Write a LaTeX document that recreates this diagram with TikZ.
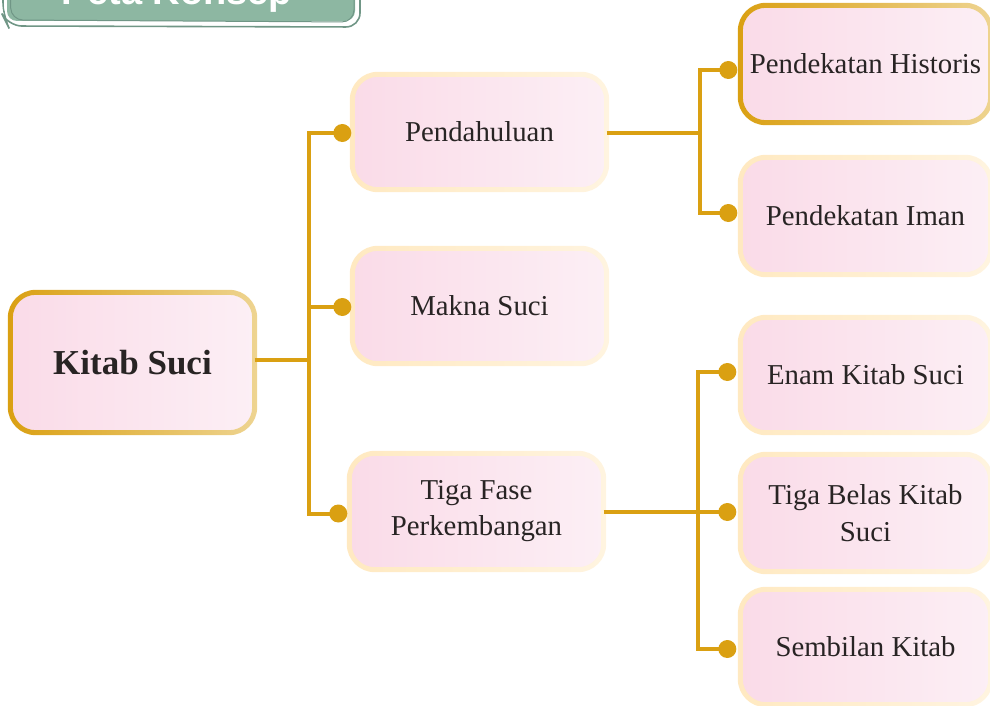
\documentclass[tikz,border=0pt]{standalone}
\usepackage{fontspec}
\setmainfont{Liberation Serif}
\newfontfamily\headfont{Liberation Sans}
\usetikzlibrary{calc}

\definecolor{gold}{RGB}{218,160,18}
\definecolor{palegold}{RGB}{238,212,145}
\definecolor{creamL}{RGB}{255,233,193}
\definecolor{creamR}{RGB}{255,244,224}
\definecolor{pinkL}{RGB}{250,219,232}
\definecolor{pinkR}{RGB}{252,239,245}
\definecolor{ink}{RGB}{40,36,36}
\definecolor{sage}{RGB}{141,183,162}
\definecolor{sageline}{RGB}{112,150,134}

% shaded frame around a box node: #1 node, #2 left colour, #3 right colour
\newcommand\boxring[3]{%
  \path[left color=#2, right color=#3, even odd rule]
    [rounded corners=28pt] ($(#1.north west)+(-2.5,-2.5)$) rectangle ($(#1.south east)+(2.5,2.5)$)
    [rounded corners=23pt] ($(#1.north west)+(2.5,2.5)$) rectangle ($(#1.south east)+(-2.5,-2.5)$);}

\begin{document}
\begin{tikzpicture}[x=1pt,y=-1pt,
  topic/.style={rectangle, rounded corners=25.5pt, left color=pinkL, right color=pinkR,
    draw=none, text=ink, align=center, inner sep=0pt,
    font=\fontsize{28.8}{36}\selectfont},
  wide/.style={topic, minimum width=254pt, minimum height=115pt},
  leaf/.style={topic, minimum width=250pt, minimum height=117pt},
  conn/.style={draw=gold, line width=4pt},
  dot/.style={circle, fill=gold, inner sep=0pt, minimum size=18pt}]

\useasboundingbox (0,0) rectangle (990,706);
\clip (0,0) rectangle (990,706);

% title tab
\draw[sageline, line width=1.6pt, rounded corners=14pt] (3,-60) -- (3,16) -- (8,26) -- (360,27) -- (360,-60);
\draw[white, line width=1.4pt, rounded corners=12pt] (5,-60) -- (5,20) -- (356,23) -- (357,-60);
\fill[sage, rounded corners=10pt] (7,-60) rectangle (355,21);
\draw[sageline, line width=1pt, rounded corners=12pt] (9,-60) -- (11,20) -- (354,22) -- (354,-60);
\node[anchor=base, text=white, font=\headfont\bfseries\fontsize{38}{40}\selectfont] (title) at (177,5) {Peta Konsep};

% boxes
\node[topic, minimum width=244pt, minimum height=140pt,
      font=\bfseries\fontsize{35}{40}\selectfont] (ks) at (132.5,362.5) {Kitab Suci};
\node[wide] (pd) at (479.5,132) {Pendahuluan};
\node[wide] (mk) at (479.5,306) {Makna Suci};
\node[wide, minimum height=116pt] (tf) at (476.5,511.5) {Tiga Fase\\Perkembangan};
\node[leaf] (ph) at (865.5,64) {Pendekatan Historis};
\node[leaf] (pi) at (865.5,216) {Pendekatan Iman};
\node[leaf, minimum height=115pt] (ek) at (865.5,375) {Enam Kitab Suci};
\node[leaf, font=\fontsize{28.8}{37}\selectfont] (tb) at (865.5,513) {Tiga Belas Kitab\\Suci};
\node[leaf, minimum height=115pt] (sk) at (865.5,647) {Sembilan Kitab};

\boxring{ks}{gold}{palegold}
\boxring{ph}{gold}{palegold}
\boxring{pd}{creamL}{creamR}
\boxring{mk}{creamL}{creamR}
\boxring{tf}{creamL}{creamR}
\boxring{pi}{creamL}{creamR}
\boxring{ek}{creamL}{creamR}
\boxring{tb}{creamL}{creamR}
\boxring{sk}{creamL}{creamR}

% connectors from the root
\coordinate (j1) at (309,360);
\draw[conn] (ks.east |- j1) -- (j1);
\draw[conn] (j1) |- ($(pd.west)+(-10,1)$) node[dot]{};
\draw[conn] (j1) |- ($(mk.west)+(-10,1)$) node[dot]{};
\draw[conn] (j1) |- ($(tf.west)+(-11,2)$) node[dot]{};

% connectors from Pendahuluan
\coordinate (j2) at (700,133);
\draw[conn] (pd.east |- j2) -- (j2);
\draw[conn] (j2) |- ($(ph.west)+(-12,6)$) node[dot]{};
\draw[conn] (j2) |- ($(pi.west)+(-12,-3)$) node[dot]{};

% connectors from Tiga Fase Perkembangan
\coordinate (j3) at (698,512);
\draw[conn] (tf.east |- j3) -- (j3);
\draw[conn] (j3) |- ($(ek.west)+(-13,-3)$) node[dot]{};
\draw[conn] (j3) |- ($(tb.west)+(-13,-1)$) node[dot]{};
\draw[conn] (j3) |- ($(sk.west)+(-13,2)$) node[dot]{};
\end{tikzpicture}
\end{document}
